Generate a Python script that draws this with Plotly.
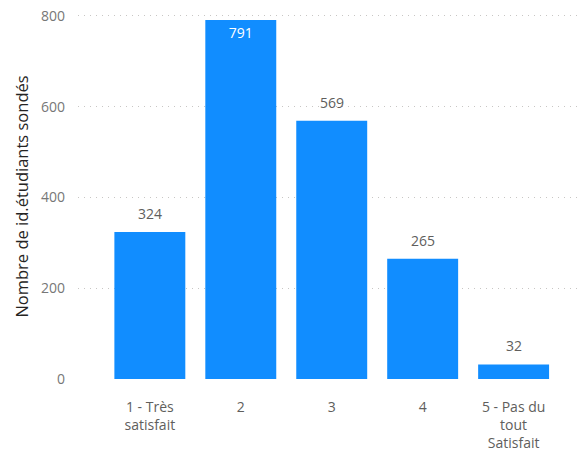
import plotly.graph_objects as go

categories = ["1 - Très<br>satisfait", "2", "3", "4", "5 - Pas du<br>tout<br>Satisfait"]
values = [324, 791, 569, 265, 32]
inside_label = [False, True, False, False, False]
y_ticks = [0, 200, 400, 600, 800]

FONT = "Segoe UI, Open Sans, Noto Sans, sans-serif"
xs = list(range(len(categories)))

fig = go.Figure(go.Bar(
    x=xs,
    y=values,
    marker=dict(color="#118DFF", line=dict(width=0)),
    text=[str(v) if ins else "" for v, ins in zip(values, inside_label)],
    textposition="inside",
    insidetextanchor="end",
    insidetextfont=dict(color="white", size=14, family=FONT),
    cliponaxis=False,
    width=0.78,
))

for x, v, ins in zip(xs, values, inside_label):
    if not ins:
        fig.add_annotation(x=x, y=v, text=str(v), showarrow=False, yanchor="bottom",
                           yshift=7, font=dict(color="#605E5C", size=14, family=FONT))

fig.update_layout(
    width=586, height=453,
    margin=dict(l=78, r=6, t=14, b=74, autoexpand=False),
    paper_bgcolor="white", plot_bgcolor="white",
    showlegend=False,
    font=dict(family=FONT),
    xaxis=dict(
        tickmode="array", tickvals=xs, ticktext=categories,
        range=[-0.79, 4.73], showgrid=False, zeroline=False, showline=False,
        tickfont=dict(size=14, color="#605E5C"), ticks="", ticklabelstandoff=18,
        automargin=False,
    ),
    yaxis=dict(
        range=[0, 804], tickvals=y_ticks, showgrid=True, gridcolor="#C8C6C4",
        griddash="1px,5px", gridwidth=1, zeroline=False, showline=False,
        tickfont=dict(size=14, color="#777777"), ticks="", ticklabelstandoff=12,
        ticklabeloverflow="allow", automargin=False,
        title=dict(text="Nombre de id.étudiants sondés", font=dict(size=16.5, color="#252423"), standoff=8),
    ),
)

fig.write_html("out.html", config={"displayModeBar": False},
               post_script="document.body.style.margin='0';")
